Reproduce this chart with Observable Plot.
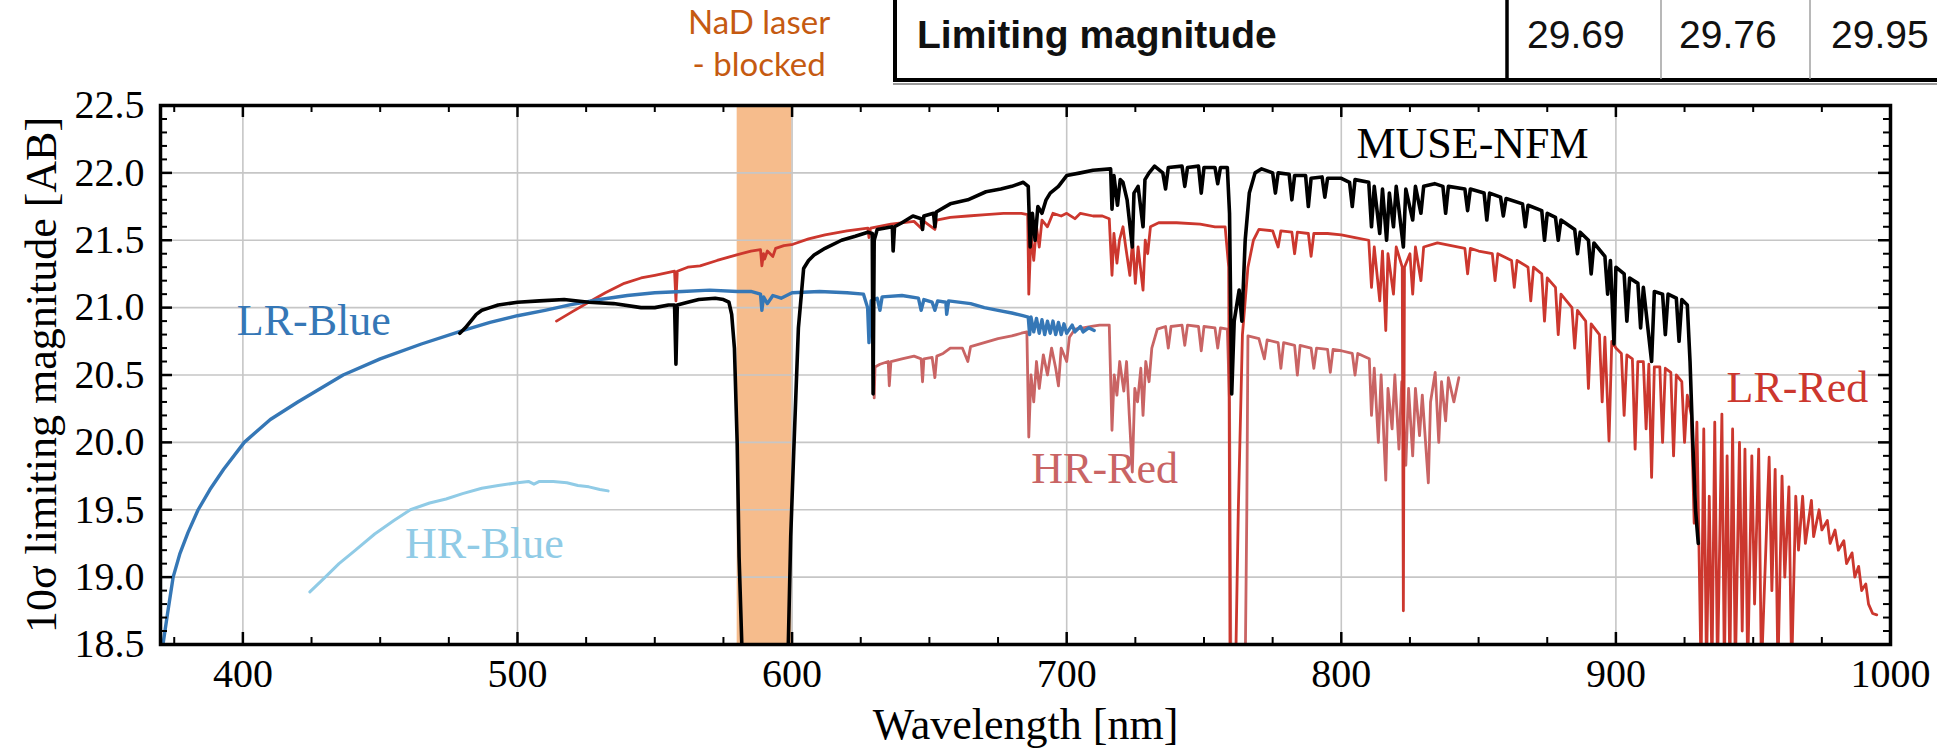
<!DOCTYPE html>
<html>
<head>
<meta charset="utf-8">
<script src="https://cdn.jsdelivr.net/npm/d3@7"></script>
<script src="https://cdn.jsdelivr.net/npm/@observablehq/plot@0.6"></script>
<style>
  body { margin: 0; background: #fff; }
  #wrap { position: relative; width: 1937px; height: 750px; overflow: hidden; background: #fff; }
  #wrap > svg { position: absolute; left: 0; top: 0; }
</style>
</head>
<body>
<div id="wrap"></div>
<script>
// ---------------- data ----------------
const lrBlueNm  = [370.9,372.5,374.6,377,380,383.7,388,393,400.5,410,420,436.5,450,465,480,490,500,510,519,530,540,550,560,570,580,585,588.5,589,589.6,591,593,596,600,610,620,626,627.5,628,628.8,631,632,632.8,640,646,647,648,651,652,653,656,656.3,657,665,670,675,680,684,686,686.5,687,688,689,690,691,692,693,694,695,696,697,698,699,700,702,703,705,706,708,710];
const lrBlueMag = [18.5,18.72,19.0,19.17,19.33,19.5,19.65,19.8,20.0,20.17,20.3,20.5,20.62,20.73,20.83,20.89,20.94,20.98,21.02,21.06,21.09,21.11,21.12,21.13,21.12,21.12,21.1,20.98,21.08,21.03,21.09,21.07,21.11,21.12,21.11,21.1,21.0,20.74,21.05,21.07,20.98,21.08,21.09,21.07,20.98,21.06,21.04,20.98,21.05,21.04,20.95,21.05,21.03,21.0,20.98,20.96,20.94,20.93,20.8,20.93,20.82,20.92,20.81,20.91,20.8,20.9,20.81,20.9,20.8,20.89,20.8,20.88,20.81,20.87,20.82,20.86,20.82,20.85,20.83];

const hrBlueNm  = [424.4,430,435,441,448,455,461,468,474,480,487,493,500,504,506,508,513,518,522,526,530,533];
const hrBlueMag = [18.89,19.0,19.1,19.2,19.32,19.42,19.5,19.55,19.58,19.62,19.66,19.68,19.7,19.71,19.69,19.71,19.71,19.7,19.68,19.67,19.65,19.64];

const museNm  = [479,481,483,485,487,490,493,500,508,517,526,535,545,550,555,557.2,557.7,558.2,562,566,572,575,577,578,579,580,580.7,582,598.4,599.5,600.6,602.3,604.2,606,608,612,618,623,627.6,629.2,629.5,629.9,631,636.5,636.8,637.3,640,644,647,647.5,648,651.5,652,652.5,657.6,664,670.6,676,680,684.2,686,686.7,687.5,688.5,689.5,691,692.5,694,697,700,705,709.6,716,716.5,717.2,718.5,719.5,720.5,722,723.9,724.5,726,727.8,728.5,730,732,735,736,737,742,743,744,748,749,750,754,755,756,758.5,759.3,760.1,761,762.8,763.8,765,766.5,768.6,771,775,776,777,781,782,783,787,788,789,793,794,795,800,803,804,805,810,811,812,814,815,816.5,817.5,819,820,822.6,823.5,826,827,829,830,834,837,838,839,845,846,847,852,853,854,858,859,860,866,867,868,873,874,875,878,879,880,885,886,887,890,891,892,896,897,898,899.3,900,903,904,905,908,909,910,913,914,917,918,919,922,923,924,926,927,928,929,930];
const museMag = [20.81,20.85,20.9,20.95,20.98,21.0,21.02,21.04,21.05,21.06,21.04,21.03,21.0,21.0,21.02,21.02,20.58,21.02,21.04,21.06,21.07,21.06,21.04,20.95,20.7,20.0,19.15,18.3,18.3,19.3,19.93,20.85,21.29,21.35,21.39,21.44,21.5,21.53,21.56,21.55,20.36,21.5,21.58,21.6,21.42,21.6,21.63,21.68,21.66,21.58,21.68,21.7,21.6,21.71,21.77,21.8,21.86,21.88,21.9,21.93,21.9,21.45,21.7,21.5,21.75,21.7,21.8,21.85,21.9,21.98,22.0,22.02,22.03,21.73,21.98,21.76,21.95,21.93,21.8,21.45,21.85,21.9,21.6,21.95,22.0,22.05,22.0,21.88,22.04,22.05,21.9,22.04,22.05,21.85,22.04,22.04,21.92,22.04,22.04,21.7,20.36,20.9,21.13,20.9,21.5,21.85,22.0,22.03,22.0,21.85,22.0,21.99,21.8,21.98,21.98,21.75,21.96,21.97,21.82,21.96,21.96,21.93,21.75,21.95,21.93,21.6,21.9,21.55,21.88,21.5,21.85,21.6,21.9,21.45,21.88,21.65,21.9,21.7,21.9,21.92,21.9,21.7,21.9,21.88,21.72,21.88,21.85,21.65,21.85,21.82,21.68,21.81,21.77,21.6,21.76,21.72,21.5,21.7,21.67,21.5,21.65,21.58,21.4,21.56,21.5,21.25,21.48,21.38,21.1,21.35,20.73,21.3,21.25,20.9,21.22,21.18,20.85,21.15,20.6,21.12,21.1,20.8,21.1,21.07,20.75,21.06,21.02,20.6,20.0,19.5,19.25];

const lrRedNm  = [514.2,520,525.9,532,538.9,545,550,557.2,557.7,558.2,562,566.5,572.7,579.5,585,588.5,589,589.6,590,591,593,594,597,600.3,606,612,620,627.6,628,628.6,636,644.4,647,648,652,652.6,657.6,664,670.6,677,683.5,685.8,686.2,687,688,689,690,691,693,695,698,700,703,705,709.6,713,715.5,716.5,717.2,718.3,719.2,720.5,721.5,723,724,725,726,727.8,728.6,729.5,730.5,733.5,740,748.6,754,757.7,759,759.5,761.5,762.5,764,766,768,770,775,777,778,782,783,784,788,789,790,795,800,805,810,811,812,814,815,816.2,817,819,820,822.2,822.6,823,825,826,827,829,830,835,840,845,846,847,850,855,856,857,862,863,864,868,869,870,873,874,875,878,879,880,884,885,886,889,890,891,894,895,896,897.5,898.5,900,902,903,904,906,907,908,910,911,912,913,914,916,917,918,920,921,922,924,925,926,927.5,928.5,929.5,931,932,933,934,935,936,937,938.6,939.5,940.5,941.5,942.5,943.5,945,946,947,948,949.5,950.5,952,953,955.8,956.8,958,959,960.5,961.5,963,964,965.5,966.5,968,969,971.2,972,974,975,977,978,979.8,981,983,984,986,987,988.4,989.5,991,992,993.5,995];
const lrRedMag = [20.9,20.97,21.04,21.11,21.18,21.22,21.24,21.27,21.05,21.27,21.3,21.31,21.35,21.39,21.42,21.43,21.31,21.4,21.36,21.42,21.38,21.44,21.46,21.47,21.51,21.54,21.57,21.59,21.52,21.59,21.62,21.64,21.59,21.64,21.58,21.65,21.67,21.68,21.69,21.7,21.7,21.69,21.1,21.55,21.35,21.6,21.45,21.65,21.6,21.7,21.68,21.7,21.66,21.7,21.68,21.68,21.66,21.24,21.55,21.33,21.5,21.6,21.45,21.24,21.5,21.18,21.45,21.13,21.5,21.4,21.6,21.63,21.63,21.62,21.6,21.6,21.3,18.3,18.3,19.5,20.8,21.3,21.5,21.58,21.57,21.45,21.57,21.56,21.4,21.56,21.55,21.38,21.55,21.55,21.54,21.52,21.5,21.15,21.45,21.05,21.42,20.83,21.4,21.1,21.45,21.3,18.75,21.3,21.4,21.1,21.45,21.2,21.45,21.48,21.46,21.44,21.25,21.44,21.42,21.4,21.2,21.4,21.35,21.15,21.35,21.3,21.05,21.3,21.25,20.9,21.22,21.15,20.8,21.1,21.0,20.7,20.98,20.9,20.4,20.88,20.8,20.3,20.78,20.01,20.75,20.7,20.66,20.2,20.65,20.62,19.95,20.6,20.6,20.1,20.58,19.74,20.56,20.56,20.0,20.55,20.52,19.9,20.5,20.45,20.0,20.35,20.2,19.4,20.15,18.3,20.1,18.3,19.6,18.3,20.15,18.3,20.21,18.3,19.9,18.3,20.1,18.3,20.0,18.6,19.95,18.3,19.9,18.8,19.95,18.3,19.89,18.9,19.8,18.3,19.75,19.0,19.67,18.3,19.6,19.2,19.6,19.25,19.57,19.3,19.5,19.35,19.42,19.25,19.35,19.2,19.27,19.1,19.18,19.0,19.08,18.9,18.95,18.8,18.73,18.72];

const hrRedNm  = [629.9,630.2,632,635,635.4,636,640,644.4,647,647.5,648,651,652,652.7,655,657.6,662,664,665,670,675,680,683.5,685.5,686.2,687,688,689,690,691.5,693,694.5,696,697,698,700,701,703,706,709,712,715.5,716.5,717.3,718.3,719.3,720.8,721.8,722.8,723.9,724.8,725.8,727,727.8,728.8,730,731,733,736,737,738,742,743,744,748,749,750,754,755,756,758.5,759.3,759.8,765,765.6,766,770,772,773,777,778,779,783,784,785,789,790,791,795,796,797,800,804,805,806,810.2,811,812,813.5,814.5,816.2,817,818.5,819.5,821,822,823.5,824.5,826,827,828.5,829.5,831.7,832.5,834.2,835.5,836.5,838,839,841,842.8];
const hrRedMag = [20.33,20.56,20.58,20.6,20.42,20.6,20.62,20.64,20.62,20.45,20.62,20.63,20.48,20.64,20.66,20.7,20.7,20.6,20.71,20.74,20.77,20.79,20.81,20.82,20.04,20.5,20.3,20.6,20.4,20.65,20.5,20.7,20.55,20.42,20.7,20.6,20.78,20.84,20.85,20.86,20.87,20.87,20.09,20.5,20.35,20.6,20.38,20.6,20.2,19.78,20.4,20.3,20.55,20.2,20.6,20.45,20.7,20.84,20.86,20.7,20.86,20.87,20.72,20.87,20.86,20.68,20.86,20.85,20.7,20.85,20.84,20.3,18.3,18.3,19.5,20.79,20.77,20.62,20.76,20.74,20.55,20.74,20.72,20.5,20.72,20.7,20.55,20.7,20.69,20.52,20.69,20.68,20.66,20.5,20.66,20.62,20.2,20.55,20.0,20.5,19.72,20.4,20.1,20.5,19.95,20.45,19.83,20.4,19.9,20.4,20.05,20.35,19.7,20.3,20.52,20.0,20.45,20.16,20.48,20.3,20.48];

// blocked NaD laser band
const bandStart = [580];
const bandEnd   = [600];
const bandText  = ["NaD laser", "- blocked"];

// series labels
const labelNames  = ["LR-Blue", "HR-Blue", "HR-Red", "LR-Red", "MUSE-NFM"];
const labelNm     = [397.8, 459, 687.1, 940.3, 805.5];
const labelMag    = [20.80, 19.14, 19.70, 20.30, 22.11];
const labelColors = ["#3577b6", "#90cbe6", "#c96464", "#cc372e", "#000000"];

// axis ticks
const xMajor = [400, 500, 600, 700, 800, 900, 1000];
const xTickText = ["400", "500", "600", "700", "800", "900", "1000"];
const xGridV = [400, 500, 600, 700, 800, 900];
const xMinor = [375,425,450,475,525,550,575,625,650,675,725,750,775,825,850,875,925,950,975];
const yMajor = [18.5, 19.0, 19.5, 20.0, 20.5, 21.0, 21.5, 22.0, 22.5];
const yTickText = ["18.5", "19.0", "19.5", "20.0", "20.5", "21.0", "21.5", "22.0", "22.5"];
const yGridV = [19.0, 19.5, 20.0, 20.5, 21.0, 21.5, 22.0];
const yMinor = [18.6,18.7,18.8,18.9,19.1,19.2,19.3,19.4,19.6,19.7,19.8,19.9,20.1,20.2,20.3,20.4,20.6,20.7,20.8,20.9,21.1,21.2,21.3,21.4,21.6,21.7,21.8,21.9,22.1,22.2,22.3,22.4];

// top table text
const tableLabel  = "Limiting magnitude";
const tableValues = ["29.69", "29.76", "29.95"];

// ---------------- build ----------------
const toRows = (nm, mag) => nm.map((n, i) => ({nm: n, mag: mag[i]}));
const lrBlue = toRows(lrBlueNm, lrBlueMag);
const hrBlue = toRows(hrBlueNm, hrBlueMag);
const muse   = toRows(museNm, museMag);
const lrRed  = toRows(lrRedNm, lrRedMag);
const hrRed  = toRows(hrRedNm, hrRedMag);
const bands  = bandStart.map((s, i) => ({x1: s, x2: bandEnd[i]}));
const xTicks = xMajor.map((v, i) => ({v, t: xTickText[i]}));
const yTicks = yMajor.map((v, i) => ({v, t: yTickText[i]}));

const W = 1937, H = 750, mL = 160, mR = 47, mT = 105, mB = 106;
const xDom = [370, 1000], yDom = [18.5, 22.5];
const magPerPx = (yDom[1] - yDom[0]) / (H - mT - mB);
const nmPerPx  = (xDom[1] - xDom[0]) / (W - mL - mR);
const majLen = 12, minLen = 7;
const serif = "Liberation Serif";

const tickMarks = [
  Plot.ruleX(xMajor, {x: d => d, y1: yDom[0], y2: yDom[0] + majLen * magPerPx, stroke: "black", strokeWidth: 2.5}),
  Plot.ruleX(xMajor, {x: d => d, y1: yDom[1], y2: yDom[1] - majLen * magPerPx, stroke: "black", strokeWidth: 2.5}),
  Plot.ruleX(xMinor, {x: d => d, y1: yDom[0], y2: yDom[0] + minLen * magPerPx, stroke: "black", strokeWidth: 2}),
  Plot.ruleX(xMinor, {x: d => d, y1: yDom[1], y2: yDom[1] - minLen * magPerPx, stroke: "black", strokeWidth: 2}),
  Plot.ruleY(yMajor, {y: d => d, x1: xDom[0], x2: xDom[0] + majLen * nmPerPx, stroke: "black", strokeWidth: 2.5}),
  Plot.ruleY(yMajor, {y: d => d, x1: xDom[1], x2: xDom[1] - majLen * nmPerPx, stroke: "black", strokeWidth: 2.5}),
  Plot.ruleY(yMinor, {y: d => d, x1: xDom[0], x2: xDom[0] + minLen * nmPerPx, stroke: "black", strokeWidth: 2}),
  Plot.ruleY(yMinor, {y: d => d, x1: xDom[1], x2: xDom[1] - minLen * nmPerPx, stroke: "black", strokeWidth: 2})
];

const labelMarks = labelNames.map((name, i) => Plot.text([name], {
  x: [labelNm[i]], y: [labelMag[i]], text: d => d,
  fill: labelColors[i], fontSize: 44, fontFamily: serif,
  textAnchor: "start", lineAnchor: "bottom"
}));

const chart = Plot.plot({
  width: W, height: H,
  marginLeft: mL, marginRight: mR, marginTop: mT, marginBottom: mB,
  style: {background: "transparent", fontFamily: serif, fontSize: "40px", color: "black", overflow: "visible"},
  x: {domain: xDom, axis: null},
  y: {domain: yDom, axis: null},
  marks: [
    Plot.rect(bands, {x1: "x1", x2: "x2", fill: "#f6bc8c"}),
    Plot.gridX({ticks: xGridV, stroke: "#c6c6c6", strokeOpacity: 1, strokeWidth: 1.6}),
    Plot.gridY({ticks: yGridV, stroke: "#c6c6c6", strokeOpacity: 1, strokeWidth: 1.6}),
    Plot.line(hrRed,  {x: "nm", y: "mag", stroke: "#c96464", strokeWidth: 2.8, clip: true}),
    Plot.line(lrRed,  {x: "nm", y: "mag", stroke: "#cc372e", strokeWidth: 2.8, clip: true}),
    Plot.line(hrBlue, {x: "nm", y: "mag", stroke: "#90cbe6", strokeWidth: 3, clip: true}),
    Plot.line(lrBlue, {x: "nm", y: "mag", stroke: "#3577b6", strokeWidth: 3.4, clip: true}),
    Plot.line(muse,   {x: "nm", y: "mag", stroke: "#000000", strokeWidth: 3.6, clip: true}),
    ...labelMarks,
    ...tickMarks,
    Plot.frame({stroke: "black", strokeWidth: 3.5}),
    Plot.text(xTicks, {x: "v", text: "t", frameAnchor: "bottom", dy: 14, lineAnchor: "top", textAnchor: "middle", fontSize: 40, fontFamily: serif, fontVariant: "normal", fill: "black"}),
    Plot.text(yTicks, {y: "v", text: "t", frameAnchor: "left", dx: -16, lineAnchor: "middle", textAnchor: "end", fontSize: 40, fontFamily: serif, fontVariant: "normal", fill: "black"}),
    Plot.text(["Wavelength [nm]"], {frameAnchor: "bottom", dy: 94, lineAnchor: "bottom", textAnchor: "middle", fontSize: 44, fontFamily: serif, text: d => d}),
    Plot.text(["10σ limiting magnitude [AB]"], {frameAnchor: "left", dx: -105, rotate: -90, textAnchor: "middle", lineAnchor: "bottom", fontSize: 44, fontFamily: serif, text: d => d})
  ]
});
// every text inside the chart uses the serif face of the original figure
d3.select(chart).selectAll("text")
  .style("font-family", "'Liberation Serif', serif")
  .style("font-variant", "normal")
  .style("font-variant-numeric", "normal");
document.getElementById("wrap").appendChild(chart);

// ---------------- overlay: NaD note and table fragment at the top ----------------
const xs = chart.scale("x");
const tsvg = d3.select("#wrap").append("svg")
  .attr("width", W).attr("height", mT)
  .style("pointer-events", "none");
const nadX = xs.apply((bandStart[0] + bandEnd[0]) / 2) - 5;
bandText.forEach((t, i) => tsvg.append("text")
  .attr("x", nadX).attr("y", 34 + i * 42).attr("text-anchor", "middle")
  .style("font-family", "Lato, sans-serif").style("font-size", "33px")
  .attr("fill", "#c55a11").text(t));

const sans = "'Liberation Sans', Arial, sans-serif";
tsvg.append("line").attr("x1", 895).attr("x2", 895).attr("y1", -5).attr("y2", 82).attr("stroke", "black").attr("stroke-width", 4);
tsvg.append("line").attr("x1", 893).attr("x2", W + 5).attr("y1", 84).attr("y2", 84).attr("stroke", "#9a9a9a").attr("stroke-width", 2);
tsvg.append("line").attr("x1", 893).attr("x2", W + 5).attr("y1", 80).attr("y2", 80).attr("stroke", "black").attr("stroke-width", 4);
tsvg.append("line").attr("x1", 1507).attr("x2", 1507).attr("y1", -5).attr("y2", 80).attr("stroke", "black").attr("stroke-width", 3.5);
[1661, 1810].forEach(x => tsvg.append("line").attr("x1", x).attr("x2", x).attr("y1", -5).attr("y2", 79).attr("stroke", "#a0a0a0").attr("stroke-width", 1.5));
tsvg.append("text").attr("x", 917).attr("y", 48).style("font-family", sans).style("font-weight", "bold").style("font-size", "39px").attr("fill", "#111").text(tableLabel);
const valueX = [1527, 1679, 1831];
tableValues.forEach((v, i) => tsvg.append("text").attr("x", valueX[i]).attr("y", 48).style("font-family", sans).style("font-size", "39px").attr("fill", "#111").text(v));
</script>
</body>
</html>
